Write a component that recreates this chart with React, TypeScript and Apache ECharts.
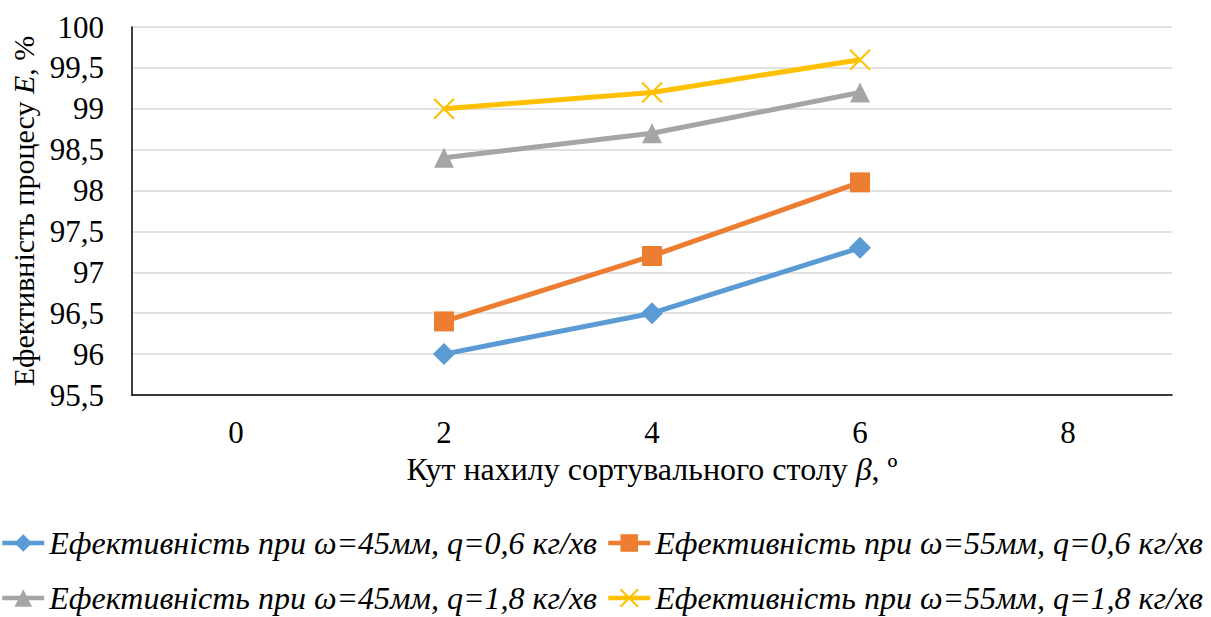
import React, { useEffect, useRef } from "react";
import * as echarts from "echarts";

const xTicks = [0, 2, 4, 6, 8];
const xValues = [2, 4, 6];
const seriesNames = [
  "Ефективність при ω=45мм, q=0,6 кг/хв",
  "Ефективність при ω=55мм, q=0,6 кг/хв",
  "Ефективність при ω=45мм, q=1,8 кг/хв",
  "Ефективність при ω=55мм, q=1,8 кг/хв",
];
const s45q06 = [96.0, 96.5, 97.3];
const s55q06 = [96.4, 97.2, 98.1];
const s45q18 = [98.4, 98.7, 99.2];
const s55q18 = [99.0, 99.2, 99.6];

const FONT = "Liberation Serif";
const colors = ["#5B9BD5", "#ED7D31", "#A5A5A5", "#FFC000"];
const symbols = ["diamond", "rect", "triangle", "path://M0,0L10,10M10,0L0,10"];
const sizes = [22, 20, 20, 20];
const allData = [s45q06, s55q06, s45q18, s55q18];
const legendLeft = [0, 606, 0, 606];
const legendTop = [527, 527, 582, 582];

export default function App() {
  const ref = useRef<HTMLDivElement>(null);
  useEffect(() => {
    if (!ref.current) return;
    const chart = echarts.init(ref.current, null, { renderer: "svg" });
    const series = allData.map((vals, i) => ({
      name: seriesNames[i],
      type: "line",
      data: vals.map((v, j) => [xValues[j], v]),
      symbol: symbols[i],
      symbolSize: sizes[i],
      lineStyle: { color: colors[i], width: 5 },
      itemStyle:
        i === 3
          ? { color: "none", borderColor: colors[i], borderWidth: 2 }
          : { color: colors[i], borderWidth: 0 },
      emphasis: { disabled: true },
    }));
    const legendText = {
      fontSize: 32,
      fontStyle: "italic",
      fontFamily: FONT,
      color: "#000",
    };
    const legends = seriesNames.map((n, i) => ({
      data: [n],
      left: legendLeft[i],
      top: legendTop[i],
      itemWidth: 42,
      itemHeight: 22,
      padding: 0,
      lineStyle: { width: 4.5 },
      textStyle: legendText,
    }));
    chart.setOption({
      animation: false,
      textStyle: { fontFamily: FONT },
      grid: { left: 132, right: 39, top: 27, bottom: 222 },
      xAxis: {
        type: "value",
        min: -1,
        max: 9,
        interval: 1,
        axisLine: { onZero: false, lineStyle: { color: "#000", width: 1.5 } },
        axisTick: { show: false },
        splitLine: { show: false },
        axisLabel: {
          customValues: xTicks,
          fontSize: 31,
          fontFamily: FONT,
          color: "#000",
          margin: 22,
        },
        name: "Кут нахилу сортувального столу {i|β}, º",
        nameLocation: "middle",
        nameGap: 56,
        nameTextStyle: {
          fontSize: 32,
          fontFamily: FONT,
          color: "#000",
          rich: { i: { fontSize: 32, fontFamily: FONT, fontStyle: "italic", color: "#000" } },
        },
      },
      yAxis: {
        type: "value",
        min: 95.5,
        max: 100,
        interval: 0.5,
        axisLine: { show: true, onZero: false, lineStyle: { color: "#000", width: 1.5 } },
        axisTick: { show: false },
        splitLine: { lineStyle: { color: "#D9D9D9", width: 1.5 } },
        axisLabel: {
          fontSize: 31,
          fontFamily: FONT,
          color: "#000",
          margin: 28,
          formatter: (v: number) => String(v).replace(".", ","),
        },
        name: "Ефективність процесу {i|E}, %",
        nameLocation: "middle",
        nameRotate: 90,
        nameGap: 92,
        nameTextStyle: {
          fontSize: 30,
          fontFamily: FONT,
          color: "#000",
          rich: { i: { fontSize: 30, fontFamily: FONT, fontStyle: "italic", color: "#000" } },
        },
      },
      legend: legends,
      series,
    });
    return () => chart.dispose();
  }, []);
  return (
    <div
      ref={ref}
      style={{ position: "fixed", left: 0, top: 0, width: 1211, height: 617, background: "#fff" }}
    />
  );
}
